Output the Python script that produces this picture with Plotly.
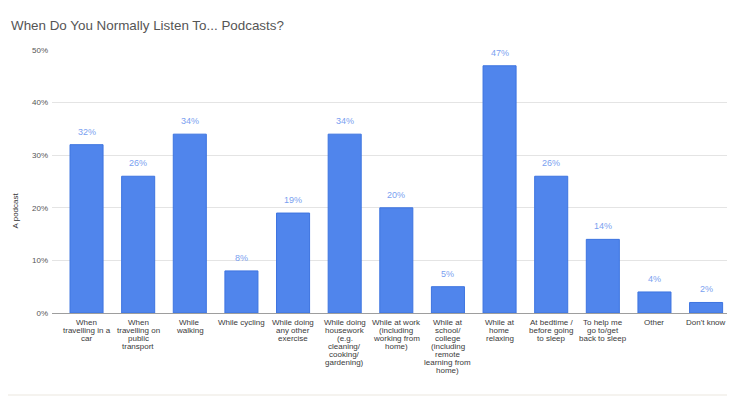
import plotly.graph_objects as go

categories = [
    "When travelling in a car",
    "When travelling on public transport",
    "While walking",
    "While cycling",
    "While doing any other exercise",
    "While doing housework (e.g. cleaning/ cooking/ gardening)",
    "While at work (including working from home)",
    "While at school/ college (including remote learning from home)",
    "While at home relaxing",
    "At bedtime / before going to sleep",
    "To help me go to/get back to sleep",
    "Other",
    "Don't know",
]
tick_labels = [
    "When<br>travelling in a<br>car",
    "When<br>travelling on<br>public<br>transport",
    "While<br>walking",
    "While cycling",
    "While doing<br>any other<br>exercise",
    "While doing<br>housework<br>(e.g.<br>cleaning/<br>cooking/<br>gardening)",
    "While at work<br>(including<br>working from<br>home)",
    "While at<br>school/<br>college<br>(including<br>remote<br>learning from<br>home)",
    "While at<br>home<br>relaxing",
    "At bedtime /<br>before going<br>to sleep",
    "To help me<br>go to/get<br>back to sleep",
    "Other",
    "Don't know",
]
values = [32, 26, 34, 8, 19, 34, 20, 5, 47, 26, 14, 4, 2]
y_ticks = [0, 10, 20, 30, 40, 50]
y_tick_labels = ["0%", "10%", "20%", "30%", "40%", "50%"]

FONT = "Liberation Sans, Arial, sans-serif"
idx = list(range(len(categories)))

fig = go.Figure()
fig.add_trace(go.Bar(
    x=idx, y=values, width=0.64,
    marker=dict(color="#5085ec", line=dict(color="#3d74e0", width=1)),
    hovertext=categories,
))

# value labels above bars
for i, v in zip(idx, values):
    fig.add_annotation(x=i, y=v, text=f"{v}%", showarrow=False,
                       yanchor="bottom", yshift=6,
                       font=dict(family=FONT, size=9, color="#7a9ff0"))

# category labels under the axis, with tight line spacing
for i, lab in zip(idx, tick_labels):
    for k, line in enumerate(lab.split("<br>")):
        fig.add_annotation(x=i, y=0, text=line, showarrow=False,
                           yanchor="top", yshift=-3 - 8 * k,
                           xanchor="center",
                           font=dict(family=FONT, size=8, color="#3a3a3a"))

fig.add_annotation(xref="paper", yref="paper", x=-0.0542, y=0.39,
                   xanchor="center", yanchor="middle",
                   text="A podcast", textangle=-90, showarrow=False,
                   font=dict(family=FONT, size=8, color="#333333"))

fig.add_shape(type="rect", xref="paper", yref="paper",
              x0=-0.1, x1=1.1, y0=-83 / 263, y1=-81 / 263,
              fillcolor="#f5f3ef", line=dict(width=0), layer="above")

fig.update_layout(
    width=727, height=388,
    margin=dict(l=44, r=0, t=42, b=83, autoexpand=False),
    paper_bgcolor="white", plot_bgcolor="white",
    showlegend=False,
    title=dict(text="When Do You Normally Listen To... Podcasts?",
               x=3 / 727, xanchor="left", y=1 - 17 / 388, yanchor="middle",
               pad=dict(l=0, r=0, t=0, b=0),
               font=dict(family=FONT, size=13.4, color="#555555")),
    xaxis=dict(range=[-0.669, 12.56], tickvals=idx, showticklabels=False,
               showgrid=False, zeroline=False, showline=False, ticks="",
               automargin=False, fixedrange=True),
    yaxis=dict(range=[0, 50], tickvals=y_ticks, ticktext=y_tick_labels,
               showgrid=True, gridcolor="#e4e4e4", gridwidth=1,
               zeroline=True, zerolinecolor="#9e9e9e", zerolinewidth=1,
               showline=False, ticks="", automargin=False,
               ticklabelstandoff=3,
               tickfont=dict(family=FONT, size=8, color="#555555")),
)

fig.write_html("out.html")
